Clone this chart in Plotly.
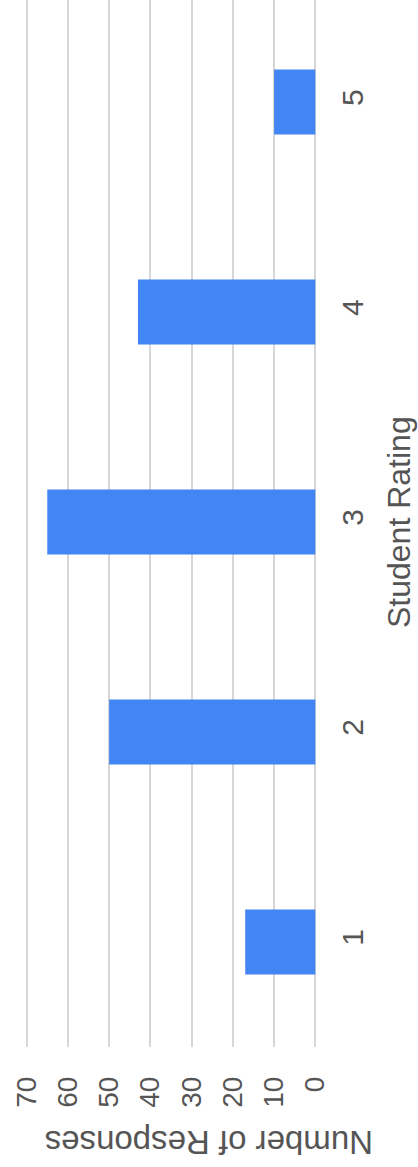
import plotly.graph_objects as go

ratings = [1, 2, 3, 4, 5]
responses = [17, 50, 65, 43, 10]
value_ticks = [0, 10, 20, 30, 40, 50, 60, 70]

FONT = "Arial, Liberation Sans, sans-serif"
TXT = "#555555"

fig = go.Figure(go.Bar(
    x=responses, y=ratings, orientation="h",
    marker=dict(color="#4285F4", line=dict(width=0)),
    width=0.31,
))

fig.update_layout(
    width=418, height=1167,
    margin=dict(l=25, r=101, t=0, b=120, autoexpand=False),
    plot_bgcolor="white", paper_bgcolor="white",
    showlegend=False,
    font=dict(family=FONT, color=TXT),
)
fig.update_xaxes(
    range=[70.4, -0.4], tickvals=value_ticks, ticktext=[str(v) for v in value_ticks],
    tickangle=-90, showgrid=True, gridcolor="#d6d6d6", gridwidth=2,
    zeroline=False, showline=False, ticks="", automargin=False,
    tickfont=dict(size=28, color=TXT, family=FONT), ticklabelstandoff=23,
)
fig.update_yaxes(
    range=[0.5, 5.486], tickvals=ratings, ticktext=[str(r) for r in ratings],
    side="right", tickangle=-90, showgrid=False, zeroline=False,
    showline=False, ticks="", automargin=False,
    tickfont=dict(size=30, color=TXT, family=FONT), ticklabelstandoff=15,
)
fig.add_annotation(
    text="Student Rating", xref="paper", yref="paper",
    x=(399 - 25) / 292, y=(1047 - 522) / 1047, showarrow=False,
    textangle=-90, font=dict(size=32, color=TXT, family=FONT),
    xanchor="center", yanchor="middle",
)
fig.add_annotation(
    text="Number of Responses", xref="paper", yref="paper",
    x=(209 - 25) / 292, y=(1047 - 1143) / 1047, showarrow=False,
    textangle=180, font=dict(size=33, color=TXT, family=FONT),
    xanchor="center", yanchor="middle",
)
fig.write_html(
    "out.html",
    config={"displayModeBar": False},
    post_script="document.body.style.margin='0';document.body.style.overflow='hidden';",
)
